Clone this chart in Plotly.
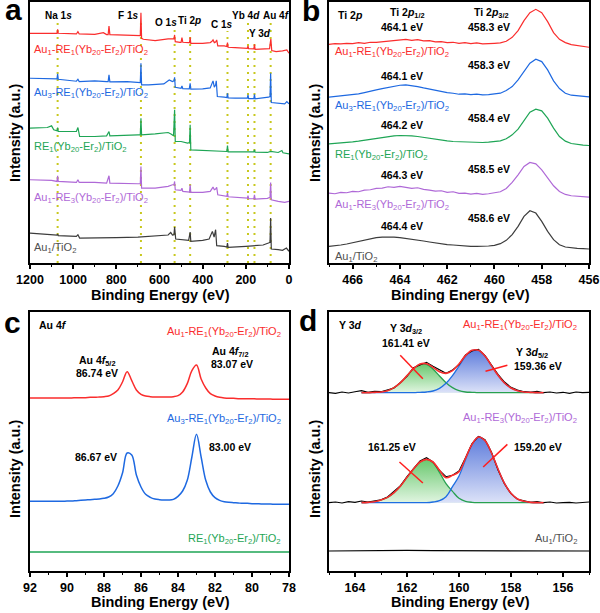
import plotly.graph_objects as go

FONT = "Arial, Liberation Sans, sans-serif"
RED = "rgb(250,45,45)"
BLUE = "rgb(30,105,225)"
GREEN = "rgb(30,165,85)"
PURPLE = "rgb(175,105,215)"
GRAY = "rgb(60,60,60)"
DOTS = "rgb(200,200,30)"

# sample names
lab_au1_re1 = "Au<sub>1</sub>-RE<sub>1</sub>(Yb<sub>20</sub>-Er<sub>2</sub>)/TiO<sub>2</sub>"
lab_au3_re1 = "Au<sub>3</sub>-RE<sub>1</sub>(Yb<sub>20</sub>-Er<sub>2</sub>)/TiO<sub>2</sub>"
lab_re1 = "RE<sub>1</sub>(Yb<sub>20</sub>-Er<sub>2</sub>)/TiO<sub>2</sub>"
lab_au1_re3 = "Au<sub>1</sub>-RE<sub>3</sub>(Yb<sub>20</sub>-Er<sub>2</sub>)/TiO<sub>2</sub>"
lab_au1 = "Au<sub>1</sub>/TiO<sub>2</sub>"

# ---- (a) survey spectra, stacked (a.u.)
red_a_E = [1200,1150,1100,1075,1072,1069,985,978,972,900,860,845,838,834,830,760,700,689,686,683,675,620,560,540,533,530,527,505,500,496,492,465,461,458,455,400,365,358,352,346,340,335,330,300,288,285,282,250,193,190,187,163,160,157,100,90,87,84,80,60,30,10,0]
red_a_I = [690,690,690,690,702,690,688,695,688,687,692,686,686,712,686,685,684,683,752,675,672,668,673,672,673,685,665,663,663,677,663,662,662,678,660,660,662,665,670,662,664,670,652,652,650,662,648,647,645,652,644,643,657,642,645,644,660,673,638,635,637,640,630]
blue_a_E = [1200,1100,1075,1072,1069,985,978,972,900,845,838,834,830,750,700,689,686,683,650,580,555,540,533,530,527,500,496,492,462,458,455,400,365,358,352,346,340,337,332,300,288,285,282,250,193,190,187,163,160,157,120,95,88,85,82,50,20,10,0]
blue_a_I = [555,553,553,568,552,546,552,545,547,545,545,565,544,545,543,542,600,535,535,538,550,545,547,558,528,525,532,524,523,540,522,523,526,535,547,528,535,547,500,498,497,510,496,495,495,505,494,494,507,493,495,498,500,570,482,480,478,485,478]
green_a_E = [1200,1120,1100,1090,1075,1072,1069,985,978,970,900,845,834,830,700,689,686,683,620,560,545,535,530,527,500,470,461,458,455,400,300,288,285,282,190,163,160,157,100,85,50,33,28,0]
green_a_I = [405,407,412,400,397,407,395,395,407,380,380,382,395,382,385,385,435,385,388,392,387,382,460,365,365,360,362,415,340,338,335,335,353,334,334,334,340,333,332,335,332,338,331,328]
purple_a_E = [1200,1100,1075,1072,1069,985,978,972,900,845,834,830,700,689,686,683,620,560,540,533,530,527,500,496,492,461,458,455,400,365,352,346,340,335,330,300,288,285,282,193,190,187,163,160,157,100,88,85,82,50,20,0]
purple_a_I = [250,248,245,262,245,242,250,242,242,240,262,240,238,238,290,225,225,230,235,235,245,220,218,225,215,213,235,212,212,215,228,220,222,227,205,203,200,210,199,195,202,193,193,205,192,194,197,242,190,185,182,185]
black_a_E = [1200,1100,1075,1072,1069,985,978,970,900,800,700,640,560,548,540,533,530,525,500,465,458,455,400,370,355,347,340,335,300,288,285,282,200,120,95,88,85,82,50,30,12,0]
black_a_I = [90,87,84,87,82,80,85,75,75,76,78,80,84,92,84,85,108,72,70,68,93,65,68,72,95,78,100,52,50,48,60,47,50,54,60,62,135,42,40,38,45,35]
survey_lines = [1072, 686, 530, 458, 285, 190, 160, 85]

# ---- (b) Ti 2p, 467 -> 456 eV, 0.25 eV steps
ti_E = [467 - 0.25 * i for i in range(45)]
red_b = [657,659,658,660,659,662,660,663,663,665,667,669,671,672,669,671,667,668,664,665,662,663,660,662,659,661,658,660,660,661,666,678,698,728,752,762,752,725,692,672,662,656,653,651,648]
blue_b = [498,500,501,503,505,508,512,515,520,524,528,532,534,535,533,530,526,522,519,515,512,510,507,508,506,507,505,506,507,510,518,530,550,575,600,612,605,580,547,524,510,504,502,501,499]
green_b = [358,359,360,362,364,366,369,372,375,378,380,382,383,383,382,380,377,374,371,369,367,365,364,363,362,362,362,363,364,367,373,385,402,428,453,462,457,435,405,380,366,359,356,354,353]
purple_b = [210,208,212,211,215,214,219,220,224,225,229,227,230,228,224,226,221,219,216,217,212,214,209,210,207,209,206,208,210,214,224,242,265,290,302,298,280,255,232,215,206,202,200,199,198]
black_b = [50,51,54,57,61,66,70,74,76,78,79,78,76,74,72,69,66,63,60,58,55,54,52,51,50,50,50,51,53,58,68,85,110,140,157,150,125,95,70,55,48,45,44,43,42]

# ---- (c) Au 4f, 92 -> 78 eV, 0.25 eV steps
au_E = [92 - 0.25 * i for i in range(57)]
red_c = [519,519,519,519,519,519,519,519,519,519,520,520,520,521,521,522,523,525,532,543,567,598,571,543,530,525,523,522,522,522,522,523,526,537,562,601,618,576,549,532,525,521,519,518,518,517,517,517,517,516,516,516,516,515,515,515,515]
blue_c = [209,209,209,209,209,209,209,209,210,210,211,212,213,214,215,216,218,222,232,255,294,354,348,288,252,230,221,216,214,213,213,215,224,240,272,342,410,342,272,237,220,212,208,206,205,204,203,203,202,202,201,201,201,200,200,200,200]
green_c_E = [92, 90, 88, 86, 84, 82, 80, 78]
green_c = [57, 57, 58, 57, 57, 56, 57, 57]

# ---- (d) Y 3d
y_E = [165 - 0.25 * i for i in range(41)]
raw1 = [535,533,537,534,538,541,536,539,538,543,549,566,584,610,618,626,614,603,593,603,619,648,660,665,646,618,590,567,551,543,538,536,539,535,537,534,536,533,537,535,536]
raw2 = [205,207,204,208,206,210,207,211,214,222,238,256,283,306,330,340,327,302,283,287,300,340,382,404,394,356,303,261,232,215,210,206,208,205,207,204,205,206,204,205,207]
raw3_E = [165, 164, 163, 162, 161, 160, 159, 158, 157, 156, 155]
raw3 = [60, 61, 60, 62, 61, 61, 60, 60, 59, 60, 60]
fit_E = [163.75 - 0.25 * i for i in range(29)]
fit1 = [535,535,536,537,541,550,565,586,607,621,622,611,598,593,601,621,646,662,662,645,616,587,564,549,541,537,536,535,535]
g1 = [535,535,536,537,541,550,565,586,607,620,620,606,585,565,550,541,537,536,535,535,535,535,535,535,535,535,535,535,535]
b1 = [535,535,535,535,535,535,535,535,535,536,537,540,548,563,586,615,644,661,662,645,616,587,564,549,541,537,536,535,535]
fit2 = [205,206,208,213,221,235,255,281,306,327,335,327,302,280,287,298,338,380,402,391,354,306,263,233,216,209,206,205,205]
g2 = [205,206,208,213,221,235,255,281,306,327,335,325,296,262,239,218,209,206,205,205,205,205,205,205,205,205,205,205,205]
b2 = [205,205,205,205,205,205,205,205,205,205,205,207,211,223,253,285,334,379,402,391,354,306,263,233,216,209,206,205,205]

W, H = 600, 613


def P(x, y):
    return x / W, 1 - y / H


fig = go.Figure()


def line(E, I, color, xa, ya, width=1.2, shape="linear"):
    fig.add_trace(go.Scatter(x=E, y=I, mode="lines", xaxis=xa, yaxis=ya,
                             line=dict(color=color, width=width, shape=shape),
                             showlegend=False, hoverinfo="skip"))


# panel a
for E, I, c in [(red_a_E, red_a_I, RED), (blue_a_E, blue_a_I, BLUE), (green_a_E, green_a_I, GREEN),
                (purple_a_E, purple_a_I, PURPLE), (black_a_E, black_a_I, GRAY)]:
    line(E, I, c, "x", "y")

# panel b
for I, c in [(red_b, RED), (blue_b, BLUE), (green_b, GREEN), (purple_b, PURPLE), (black_b, GRAY)]:
    line(ti_E, I, c, "x2", "y2", 1.2)

# panel c
line(au_E, red_c, RED, "x3", "y3", 1.5, "spline")
line(au_E, blue_c, BLUE, "x3", "y3", 1.5, "spline")
line(green_c_E, green_c, GREEN, "x3", "y3", 1.5)

# panel d: filled components
def comp(I, ctop, cbot):
    fig.add_trace(go.Scatter(x=fit_E + [fit_E[-1], fit_E[0]], y=I + [I[-1], I[0]],
                             mode="none", fill="toself", xaxis="x4", yaxis="y4",
                             fillgradient=dict(type="vertical", colorscale=[[0, cbot], [1, ctop]]),
                             line_shape="spline", showlegend=False, hoverinfo="skip"))

for g, b in [(g1, b1), (g2, b2)]:
    comp(g, "rgb(105,200,110)", "rgb(225,245,225)")
    comp(b, "rgb(95,125,220)", "rgb(220,226,248)")
    line(fit_E, g, "rgb(40,160,80)", "x4", "y4", 1.3, "spline")
    line(fit_E, b, "rgb(30,110,225)", "x4", "y4", 1.3, "spline")
line(y_E, raw1, "black", "x4", "y4", 1.1)
line(y_E, raw2, "black", "x4", "y4", 1.1)
line(raw3_E, raw3, "black", "x4", "y4", 1.1)
line(fit_E, fit1, RED, "x4", "y4", 1.6, "spline")
line(fit_E, fit2, RED, "x4", "y4", 1.6, "spline")

# axes
tickfont = dict(family=FONT, size=12.5, color="black", weight="bold")


def xaxis(px0, px1, rng, dtick, minor, anchor):
    return dict(domain=[px0 / W, px1 / W], range=rng, anchor=anchor, showline=True, mirror=True,
                linecolor="black", linewidth=1.5, ticks="outside", ticklen=4, tickwidth=1.5,
                tickcolor="black", dtick=dtick, tick0=0, tickfont=tickfont, automargin=False,
                minor=dict(dtick=minor, ticks="outside", ticklen=2.5, tickwidth=1, tickcolor="black"),
                showgrid=False, zeroline=False)


def yaxis(py0, py1, top, anchor):
    return dict(domain=[1 - py1 / H, 1 - py0 / H], range=[0, top], anchor=anchor, showline=True,
                mirror=True, linecolor="black", linewidth=1.5, ticks="", showticklabels=False,
                showgrid=False, zeroline=False, automargin=False)


fig.update_layout(
    width=W, height=H, margin=dict(l=0, r=0, t=0, b=0, autoexpand=False),
    paper_bgcolor="white", plot_bgcolor="white",
    xaxis=xaxis(30, 289, [1200, 0], 200, 100, "y"),
    yaxis=yaxis(2, 263, 784, "x"),
    xaxis2=xaxis(329, 589, [467, 456], 2, 1, "y2"),
    yaxis2=yaxis(2, 263, 784, "x2"),
    xaxis3=xaxis(30, 289, [92, 78], 2, 1, "y3"),
    yaxis3=yaxis(312, 571, 777, "x3"),
    xaxis4=xaxis(329, 589, [165, 155], 2, 1, "y4"),
    yaxis4=yaxis(312, 571, 777, "x4"),
)

# dotted guide lines in (a)
dot_tops = [20, 20, 29, 27, 31, 22, 40, 22]
for e, t in zip(survey_lines, dot_tops):
    fig.add_shape(type="line", xref="x", yref="paper", x0=e, x1=e, y0=1 - 263 / H, y1=1 - t / H,
                  layer="below", line=dict(color=DOTS, width=2, dash="2px,5px"))

# red pointer lines in (d)
for x0, y0, x1, y1 in [(162.26, 647, 161.39, 577), (158.98, 599, 158.14, 617),
                       (162.29, 327, 161.39, 264), (159.07, 312, 158.14, 380)]:
    fig.add_shape(type="line", xref="x4", yref="y4", x0=x0, y0=y0, x1=x1, y1=y1,
                  line=dict(color="rgb(255,30,30)", width=1.5))

ann = []


def txt(s, x, y, size=10.5, color="black", anchor="center", bold=True, angle=0):
    px, py = P(x, y)
    ann.append(dict(text=s, x=px, y=py, xref="paper", yref="paper", xanchor=anchor, yanchor="middle",
                    showarrow=False, textangle=angle,
                    font=dict(family=FONT, size=size, color=color, weight="bold" if bold else "normal")))


# panel letters
txt("a", 13, 10, 30)
txt("b", 311, 11, 30)
txt("c", 12, 322, 30)
txt("d", 308, 320, 30)

# axis titles
for x in (15, 315):
    txt("Intensity (a.u.)", x, 133, 14.5, angle=-90)
    txt("Intensity (a.u.)", x, 469, 14.5, angle=-90)
for x in (160, 460):
    txt("Binding Energy (eV)", x, 295, 14.5)
    txt("Binding Energy (eV)", x, 602, 14.5)

# (a) peak labels
for s, x, y in [("Na 1<i>s</i>", 58, 15), ("F 1<i>s</i>", 128, 15), ("O 1<i>s</i>", 166, 23),
                ("Ti 2<i>p</i>", 189, 20), ("C 1<i>s</i>", 222, 25), ("Yb 4<i>d</i>", 246, 15),
                ("Y 3<i>d</i>", 260, 33), ("Au 4<i>f</i>", 276, 15)]:
    txt(s, x, y, 10)

# sample names
a_names = [(lab_au1_re1, RED, 50, 52), (lab_au3_re1, BLUE, 93, 106), (lab_re1, GREEN, 147, 155),
           (lab_au1_re3, PURPLE, 198, 205), (lab_au1, "rgb(80,80,80)", 248, 257)]
for s, c, ya, yb in a_names:
    txt(s, 32, ya, 11, c, "left", False)
    txt(s, 333, yb, 11, c, "left", False)

# (b) labels
txt("Ti 2<i>p</i>", 336, 15, 10.5, anchor="left")
txt("Ti 2<i>p</i><sub>1/2</sub>", 407, 13, 10.5)
txt("Ti 2<i>p</i><sub>3/2</sub>", 491, 13, 10.5)
for a, b, y1, y2 in [("464.1", "458.3", 27, 27), ("464.1", "458.3", 76, 65), ("464.2", "458.4", 125, 118),
                     ("464.3", "458.5", 175, 169), ("464.4", "458.6", 226, 218)]:
    txt(a + " eV", 402, y1, 10.5)
    txt(b + " eV", 489, y2, 10.5)

# (c) labels
txt("Au 4<i>f</i>", 37, 325, 10.5, anchor="left")
txt(lab_au1_re1, 283, 332, 11, RED, "right", False)
txt(lab_au3_re1, 283, 419, 11, BLUE, "right", False)
txt(lab_re1, 283, 539, 11, GREEN, "right", False)
txt("Au 4<i>f</i><sub>5/2</sub>", 97, 361, 10.5)
txt("86.74 eV", 97, 373, 10.5)
txt("Au 4<i>f</i><sub>7/2</sub>", 230, 352, 10.5)
txt("83.07 eV", 232, 364, 10.5)
txt("86.67 eV", 96, 457, 10.5)
txt("83.00 eV", 230, 447, 10.5)

# (d) labels
txt("Y 3<i>d</i>", 337, 325, 10.5, anchor="left")
txt(lab_au1_re1, 579, 325, 11, RED, "right", False)
txt(lab_au1_re3, 579, 418, 11, PURPLE, "right", False)
txt(lab_au1, 579, 539, 11, "rgb(80,80,80)", "right", False)
txt("Y 3<i>d</i><sub>3/2</sub>", 406, 329, 10.5)
txt("161.41 eV", 406, 343, 10.5)
txt("Y 3<i>d</i><sub>5/2</sub>", 532, 353, 10.5)
txt("159.36 eV", 538, 366, 10.5)
txt("161.25 eV", 392, 447, 10.5)
txt("159.20 eV", 538, 447, 10.5)

fig.update_layout(annotations=ann)
fig.write_html("out.html", config={"displayModeBar": False},
               post_script="document.body.style.margin='0px';")
